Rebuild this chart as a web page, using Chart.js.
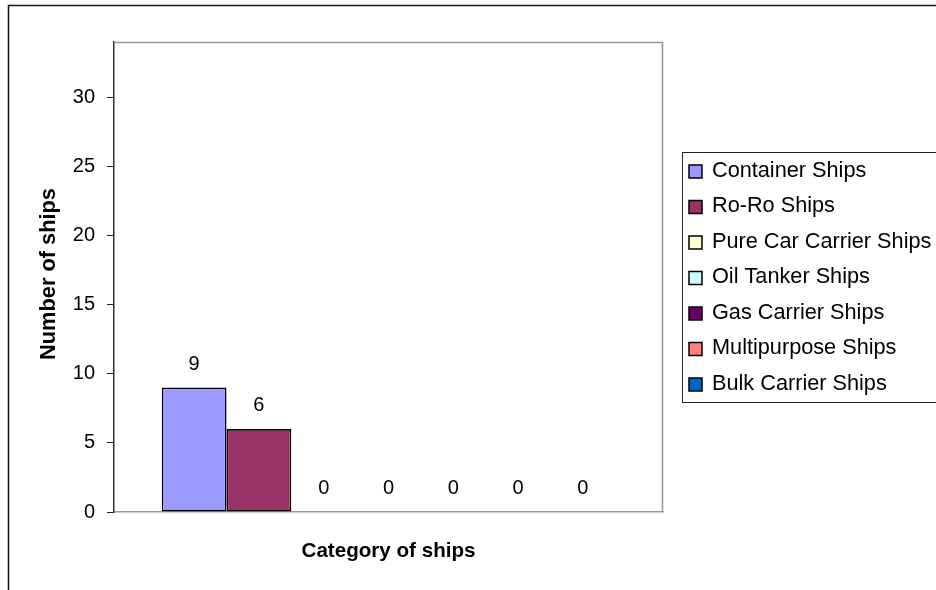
<!DOCTYPE html>
<html>
<head>
<meta charset="utf-8">
<script src="https://cdn.jsdelivr.net/npm/chart.js@4/dist/chart.umd.min.js"></script>
<style>
  html, body { margin: 0; padding: 0; background: #fff; }
  canvas { display: block; }
</style>
</head>
<body>
<canvas id="c" width="936" height="590"></canvas>
<script>
// Ship counts by category
const categories = ['Ships'];
const seriesNames = [
  'Container Ships',
  'Ro-Ro Ships',
  'Pure Car Carrier Ships',
  'Oil Tanker Ships',
  'Gas Carrier Ships',
  'Multipurpose Ships',
  'Bulk Carrier Ships'
];
const shipCounts = [9, 6, 0, 0, 0, 0, 0];
const seriesColors = ['#9999FF', '#993366', '#FFFFCC', '#CCFFFF', '#660066', '#FF8080', '#0066CC'];
const yTicks = [0, 5, 10, 15, 20, 25, 30];
const yMax = 34;
const yTitle = 'Number of ships';
const xTitle = 'Category of ships';

const FONT = '"Liberation Sans", Arial, sans-serif';

const datasets = seriesNames.map((name, i) => ({
  label: name,
  data: [shipCounts[i]],
  backgroundColor: seriesColors[i],
  borderColor: '#000',
  borderWidth: shipCounts[i] === 0 ? 0 : 1.6,
  borderSkipped: false
}));

const framePlugin = {
  id: 'frame',
  beforeDraw(chart) {
    const ctx = chart.ctx;
    ctx.save();
    ctx.fillStyle = '#fff';
    ctx.fillRect(0, 0, chart.width, chart.height);
    ctx.restore();
  },
  afterDraw(chart) {
    const ctx = chart.ctx;
    const a = chart.chartArea;
    ctx.save();
    // outer chart frame
    ctx.strokeStyle = '#111';
    ctx.lineWidth = 1.5;
    ctx.beginPath();
    ctx.moveTo(8.5, chart.height + 5);
    ctx.lineTo(8.5, 5.5);
    ctx.lineTo(chart.width + 5, 5.5);
    ctx.stroke();
    // plot area top and right edges
    ctx.strokeStyle = '#999';
    ctx.lineWidth = 1.5;
    ctx.beginPath();
    ctx.moveTo(a.left, a.top + 0.5);
    ctx.lineTo(a.right - 0.5, a.top + 0.5);
    ctx.lineTo(a.right - 0.5, a.bottom);
    ctx.stroke();

    // axis titles
    ctx.fillStyle = '#000';
    ctx.textAlign = 'center';
    ctx.textBaseline = 'alphabetic';
    ctx.font = 'bold 20.6px ' + FONT;
    ctx.fillText(xTitle, (a.left + a.right) / 2, 557);
    ctx.save();
    ctx.font = 'bold 21.8px ' + FONT;
    ctx.translate(55, 274);
    ctx.rotate(-Math.PI / 2);
    ctx.fillText(yTitle, 0, 0);
    ctx.restore();

    // legend box
    const lx = 682.5, ly = 152.5, lh = 250;
    ctx.strokeStyle = '#222';
    ctx.lineWidth = 1;
    ctx.strokeRect(lx, ly, chart.width, lh);
    ctx.font = '21.7px ' + FONT;
    ctx.textAlign = 'left';
    ctx.textBaseline = 'middle';
    chart.data.datasets.forEach((ds, i) => {
      const cy = 171 + i * 35.5;
      ctx.fillStyle = ds.backgroundColor;
      ctx.fillRect(689, cy - 6, 13, 13);
      ctx.strokeStyle = '#000';
      ctx.lineWidth = 1.5;
      ctx.strokeRect(689, cy - 6, 13, 13);
      ctx.fillStyle = '#000';
      ctx.fillText(ds.label, 712, cy);
    });
    ctx.restore();
  },
  afterDatasetsDraw(chart) {
    const ctx = chart.ctx;
    ctx.save();
    ctx.fillStyle = '#000';
    ctx.font = '20px ' + FONT;
    ctx.textAlign = 'center';
    ctx.textBaseline = 'alphabetic';
    chart.data.datasets.forEach((ds, i) => {
      const meta = chart.getDatasetMeta(i);
      meta.data.forEach((bar, j) => {
        ctx.fillText(String(ds.data[j]), bar.x, bar.y - 18);
      });
    });
    ctx.restore();
  }
};

Chart.defaults.color = '#000';
Chart.defaults.font.family = FONT;

new Chart(document.getElementById('c'), {
  type: 'bar',
  data: { labels: categories, datasets },
  options: {
    responsive: false,
    devicePixelRatio: 1,
    animation: false,
    layout: { padding: { left: 0, top: 42, right: 273, bottom: 78 } },
    datasets: { bar: { categoryPercentage: 0.826, barPercentage: 1.0 } },
    plugins: { legend: { display: false }, tooltip: { enabled: false } },
    scales: {
      x: {
        afterFit(scale) { scale.height = 0; },
        ticks: { display: false },
        grid: { display: false },
        border: { display: true, color: '#999', width: 1.5 }
      },
      y: {
        min: 0,
        max: yMax,
        afterFit(scale) { scale.width = 114; },
        ticks: {
          stepSize: 5,
          includeBounds: false,
          autoSkip: false,
          callback: v => (yTicks.includes(v) ? String(v) : null),
          font: { size: 20, family: FONT },
          color: '#000',
          padding: 12
        },
        grid: { drawOnChartArea: false, drawTicks: true, tickLength: 7, color: '#222', lineWidth: 1 },
        border: { display: true, color: '#333', width: 1.5 }
      }
    }
  },
  plugins: [framePlugin]
});
</script>
</body>
</html>
